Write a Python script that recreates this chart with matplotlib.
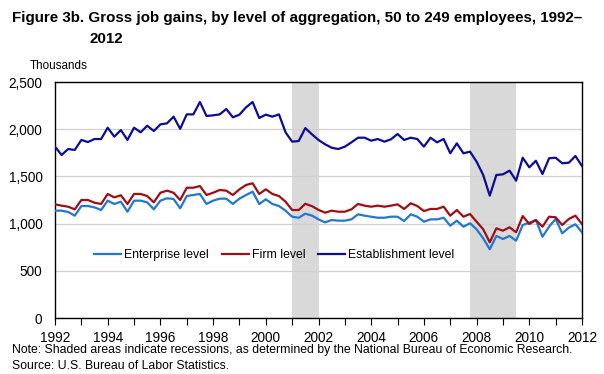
import numpy as np
import matplotlib.pyplot as plt
from matplotlib.ticker import MultipleLocator, FuncFormatter

# quarterly values, thousands, 1992Q1 .. 2012Q1
enterprise = [1137, 1137, 1123, 1084,  1186, 1186, 1172, 1144,  1243, 1208, 1232, 1126,
              1243, 1243, 1225, 1151,  1243, 1268, 1261, 1162,  1292, 1303, 1314, 1208,
              1243, 1264, 1264, 1208,  1264, 1303, 1338, 1208,  1257, 1208, 1186, 1137,
              1073, 1062, 1105, 1085,  1045, 1013, 1038, 1031,  1031, 1045, 1098, 1084,
              1073, 1062, 1062, 1073,  1073, 1027, 1098, 1073,  1020, 1045, 1045, 1062,
              978, 1031, 967, 1003,    940, 844, 728, 869,      837, 869, 819, 985,
              1010, 1038, 861, 967,    1049, 897, 957, 993,     908]
firm = [1204, 1190, 1179, 1151,  1250, 1250, 1221, 1208,  1314, 1278, 1300, 1208,
        1314, 1314, 1292, 1225,  1327, 1349, 1327, 1250,  1380, 1380, 1398, 1303,
        1327, 1356, 1349, 1303,  1363, 1409, 1427, 1314,  1363, 1314, 1292, 1232,
        1144, 1144, 1210, 1185,  1145, 1116, 1137, 1126,  1126, 1151, 1208, 1190,
        1179, 1190, 1179, 1190,  1204, 1155, 1215, 1186,  1133, 1155, 1155, 1179,
        1084, 1144, 1073, 1102,  1020, 940, 802, 950,     925, 961, 908, 1080,
        996, 1038, 967, 1073,    1067, 985, 1049, 1084,   996]
establishment = [1815, 1727, 1790, 1780,  1886, 1864, 1896, 1896,  2016, 1921, 1991, 1886,
                 2016, 1967, 2037, 1981,  2051, 2062, 2133, 2004,  2157, 2157, 2288, 2140,
                 2147, 2157, 2214, 2126,  2154, 2232, 2288, 2119,  2154, 2133, 2157, 1967,
                 1868, 1875, 2012, 1946,  1886, 1840, 1804, 1790,  1815, 1861, 1910, 1910,
                 1878, 1896, 1868, 1893,  1949, 1886, 1910, 1896,  1815, 1910, 1861, 1896,
                 1745, 1850, 1745, 1762,  1656, 1515, 1296, 1515,  1522, 1561, 1455, 1698,
                 1596, 1666, 1525, 1692,  1698, 1639, 1645, 1716,  1610]
t = 1992 + 0.25 * np.arange(len(firm))

recessions = [(2001.0, 2002.0), (2007.75, 2009.5)]

plt.rcParams['font.family'] = ['Liberation Sans', 'DejaVu Sans']

W, H = 604, 374
fig = plt.figure(figsize=(W / 100, H / 100), dpi=100)
ax = fig.add_axes([55 / W, 1 - 318 / H, 527 / W, 236 / H])

for r0, r1 in recessions:
    ax.axvspan(r0, r1, color='#d9d9d9', lw=0, zorder=0)

ax.plot(t, enterprise, color='#1f78d2', lw=1.6, label='Enterprise level', zorder=3)
ax.plot(t, firm, color='#a00d14', lw=1.6, label='Firm level', zorder=3)
ax.plot(t, establishment, color='#0c0c96', lw=1.6, label='Establishment level', zorder=3)

ax.set_xlim(1992, 2012)
ax.set_ylim(0, 2500)
ax.xaxis.set_major_locator(MultipleLocator(2))
ax.xaxis.set_minor_locator(MultipleLocator(1))
ax.yaxis.set_major_locator(MultipleLocator(500))
ax.yaxis.set_major_formatter(FuncFormatter(lambda v, p: '{:,.0f}'.format(v)))
ax.grid(axis='y', color='#d0d0d0', lw=0.9, zorder=1)
ax.tick_params(axis='x', which='both', direction='out', length=5, width=0.8,
               labelsize=9.8, pad=4)
ax.tick_params(axis='y', length=0, labelsize=9.8, pad=9)
for s in ax.spines.values():
    s.set_linewidth(1.0)

ax.legend(loc='center', bbox_to_anchor=(0.4165, 0.267), ncol=3, frameon=False,
          fontsize=8.8, handlelength=2.2, columnspacing=1.05, handletextpad=0.25,
          borderpad=0, borderaxespad=0)


def txt(x, y, s, **kw):
    return fig.text(x / W, 1 - y / H, s, va='center', ha='left', **kw)


def fit(obj, width):
    # shrink/grow a text so that it spans the same pixel width as the reference
    r = fig.canvas.get_renderer()
    w = obj.get_window_extent(r).width
    obj.set_fontsize(obj.get_fontsize() * width / w)


t1 = txt(12, 18, 'Figure 3b. Gross job gains, by level of aggregation, 50 to 249 employees, 1992\u2013',
         fontsize=10, fontweight='bold')
fit(t1, 573)
txt(89, 39, '2012', fontsize=t1.get_fontsize(), fontweight='bold')
th = txt(30, 66, 'Thousands', fontsize=9)
fit(th, 58)
n1 = txt(12, 350, 'Note: Shaded areas indicate recessions, as determined by the National Bureau of Economic Research.',
         fontsize=9)
fit(n1, 559)
txt(12, 366, 'Source: U.S. Bureau of Labor Statistics.', fontsize=n1.get_fontsize())

fig.savefig('out.png', dpi=100)
